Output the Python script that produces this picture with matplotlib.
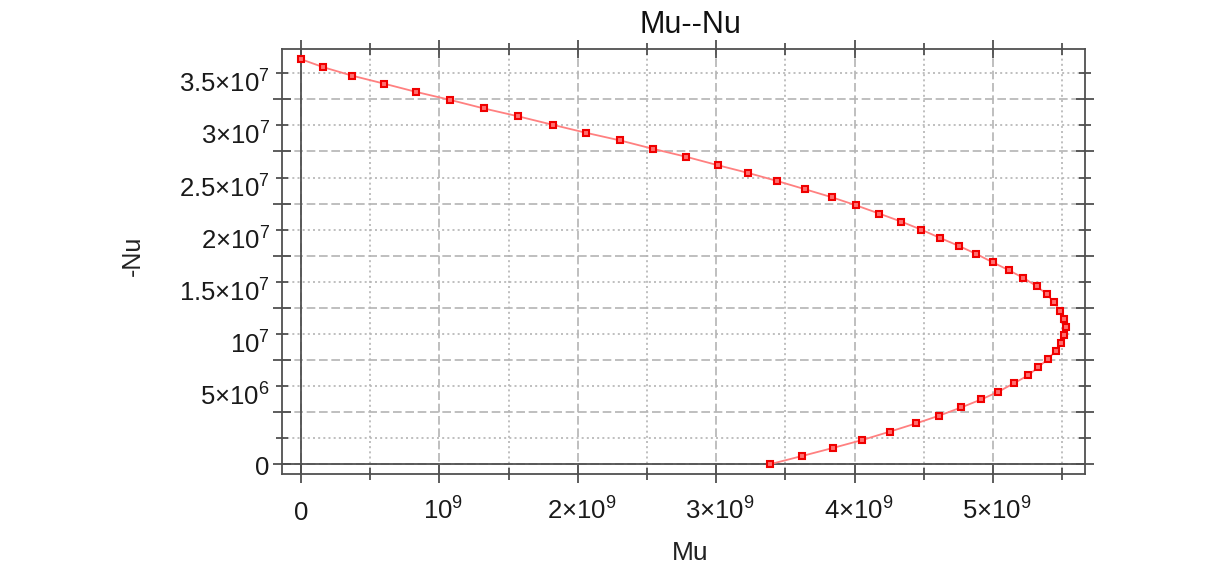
import numpy as np
import matplotlib
matplotlib.use('Agg')
import matplotlib.pyplot as plt
import matplotlib.transforms as mtransforms
from matplotlib.ticker import MultipleLocator

plt.rcParams['font.family'] = ['Liberation Sans', 'DejaVu Sans']
plt.rcParams['mathtext.fontset'] = 'custom'
plt.rcParams['mathtext.rm'] = 'Liberation Sans'
plt.rcParams['mathtext.it'] = 'Liberation Sans:italic'
plt.rcParams['mathtext.bf'] = 'Liberation Sans:bold'
plt.rcParams['mathtext.default'] = 'regular'

# ---- data (Mu in 1e9, -Nu in 1e7) ----
mu_e9 = [0.000, 0.162, 0.367, 0.599, 0.833, 1.080, 1.321, 1.570, 1.819,
         2.057, 2.306, 2.542, 2.784, 3.010, 3.229, 3.438, 3.642, 3.836, 4.010,
         4.179, 4.338, 4.483, 4.619, 4.756, 4.881, 5.000, 5.115, 5.220,
         5.315, 5.387, 5.442, 5.483, 5.514, 5.526, 5.514, 5.490, 5.454, 5.399,
         5.329, 5.254, 5.150, 5.039, 4.917, 4.772, 4.610, 4.446, 4.254, 4.056,
         3.844, 3.622, 3.386]
nu_e7 = [3.885, 3.808, 3.728, 3.651, 3.571, 3.494, 3.413, 3.337, 3.256,
         3.180, 3.106, 3.026, 2.949, 2.869, 2.795, 2.718, 2.638, 2.561, 2.484,
         2.404, 2.327, 2.250, 2.170, 2.093, 2.016, 1.936, 1.861, 1.787,
         1.709, 1.633, 1.553, 1.473, 1.396, 1.319, 1.240, 1.166, 1.089, 1.013,
         0.933, 0.853, 0.776, 0.696, 0.623, 0.546, 0.466, 0.393, 0.313, 0.233,
         0.157, 0.080, 0.000]

x_ticks = [0, 1e9, 2e9, 3e9, 4e9, 5e9]
x_tick_labels = ['0', '10$^{9}$', '2×10$^{9}$', '3×10$^{9}$', '4×10$^{9}$', '5×10$^{9}$']
y_ticks = [0, 5e6, 1e7, 1.5e7, 2e7, 2.5e7, 3e7, 3.5e7]
y_tick_labels = ['0', '5×10$^{6}$', '10$^{7}$', '1.5×10$^{7}$', '2×10$^{7}$',
                 '2.5×10$^{7}$', '3×10$^{7}$', '3.5×10$^{7}$']

mu = np.array(mu_e9) * 1e9
nu = np.array(nu_e7) * 1e7

W, H, DPI = 1217, 575, 100
fig = plt.figure(figsize=(W / DPI, H / DPI), dpi=DPI)
L, R, T, B = 282.3, 1085.0, 49.3, 474.0
ax = fig.add_axes([L / W, 1 - B / H, (R - L) / W, (B - T) / H])

frame_col = '#505050'
grid_col = '#b4b4b4'

ax.plot(mu, nu, '-', color='#ff8080', lw=1.3, zorder=4)
ax.plot(mu, nu, 's', ms=5, mfc='#ff7070', mec='#f00000', mew=1.5,
        linestyle='none', zorder=5)

ax.set_xlim(-0.135e9, 5.665e9)
ax.set_ylim(-0.093e7, 3.98e7)

ax.axhline(0, color=frame_col, lw=1.3, zorder=3)
ax.axvline(0, color=frame_col, lw=1.3, zorder=3)

for s in ax.spines.values():
    s.set_color(frame_col)
    s.set_linewidth(1.3)

ax.tick_params(which='both', direction='inout', top=True, right=True,
               color=frame_col, width=1.3, labelsize=18.5, labelcolor='#1a1a1a')
ax.tick_params(which='major', length=13)
ax.tick_params(which='minor', length=8)
ax.tick_params(axis='x', which='major', pad=26.6)
ax.tick_params(axis='y', which='major', pad=2.5)

ax.set_xticks(x_ticks)
ax.set_xticklabels(x_tick_labels)
ax.set_yticks(y_ticks)
ax.set_yticklabels(y_tick_labels)
ax.xaxis.set_minor_locator(MultipleLocator(0.5e9))
ax.yaxis.set_minor_locator(MultipleLocator(2.5e6))

ax.grid(which='major', color=grid_col, lw=1.2, ls=(0, (5.2, 2.2)), zorder=1)
ax.grid(which='minor', color=grid_col, lw=1.2, ls=(0, (1.2, 1.9)), zorder=1)
ax.set_axisbelow(True)


def shift(text, dx_px, dy_px):
    text.set_transform(text.get_transform() +
                       mtransforms.ScaledTranslation(dx_px / DPI, dy_px / DPI,
                                                     fig.dpi_scale_trans))


for tk, lab in zip(ax.xaxis.get_major_ticks(), x_tick_labels):
    tk.label1.set_verticalalignment('baseline')
    shift(tk.label1, 0 if lab == '0' else 4, 0)

for tk, lab in zip(ax.yaxis.get_major_ticks(), y_tick_labels):
    tk.label1.set_verticalalignment('baseline')
    shift(tk.label1, 0, -10.7 if lab == '0' else 6.5)

ax.set_title('Mu--Nu', fontsize=22, color='#111111', x=0.508, y=1.0, pad=11.7)

ax.set_xlabel('Mu', fontsize=19, color='#222222')
ax.xaxis.label.set_verticalalignment('center')
ax.xaxis.set_label_coords(0.508, (B - 553) / (B - T))

ax.set_ylabel('-Nu', fontsize=18, color='#222222')
ax.yaxis.label.set_verticalalignment('center')
ax.yaxis.set_label_coords((133 - L) / (R - L), (B - 255.5) / (B - T))

fig.savefig('out.png', dpi=DPI, facecolor='white')
